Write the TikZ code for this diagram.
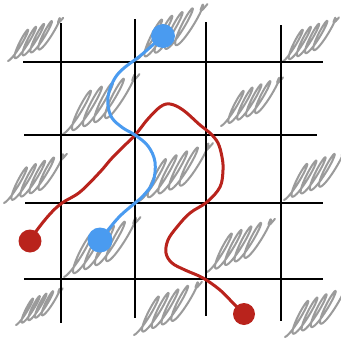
\documentclass[tikz,border=0pt]{standalone}
\usetikzlibrary{calc}
\definecolor{scribgrey}{RGB}{155,155,155}
\definecolor{pathblue}{RGB}{74,155,240}
\definecolor{pathred}{RGB}{185,35,28}
\tikzset{
  gridline/.style={draw=black, line width=2pt},
  scribble/.style={draw=scribgrey, line width=2pt, line cap=round, line join=round},
  bluepath/.style={draw=pathblue, line width=3pt, line cap=round},
  redpath/.style={draw=pathred, line width=3pt, line cap=round},
  bluedot/.style={circle, fill=pathblue, inner sep=0pt, minimum size=24pt},
  reddot/.style={circle, fill=pathred, inner sep=0pt, minimum size=23pt},
}
% #1,#2 origin (image px, y down), #3 scale, #4 end angle
\newcommand{\myscrib}[4]{%
  \draw[scribble]
    plot[domain=0:#4, samples=160, smooth]
      ({#1 + #3*(0.940*(\x/27.7 + 6*sin(\x)) + 12.2*(1-cos(\x)))},
       {#2 - #3*(0.342*(\x/27.7 + 6*sin(\x)) + 22.96*(1-cos(\x)))})
    .. controls +(-5.6*#3,12*#3) and +(-6.6*#3,8.1*#3) .. +(5.6*#3,-0.6*#3);
}
\begin{document}
\begin{tikzpicture}[x=1pt,y=-1pt]
\useasboundingbox (0,0) rectangle (341,338);
\fill[white] (0,0) rectangle (341,338);
% scribbles
\myscrib{8}{61}{0.65}{1620}
\myscrib{136}{60}{0.84}{1620}
\myscrib{282}{62}{0.67}{1620}
\myscrib{63}{134}{0.9}{1620}
\myscrib{221}{126}{0.73}{1620}
\myscrib{4}{203}{0.74}{1620}
\myscrib{139}{201}{0.87}{1620}
\myscrib{284}{200}{0.75}{1620}
\myscrib{64}{277}{0.9}{1620}
\myscrib{207}{272}{0.8}{1620}
\myscrib{16}{325}{0.55}{1620}
\myscrib{134}{335}{0.8}{1620}
\myscrib{285}{337}{0.75}{1620}
% grid
\coordinate (v1t) at (61,23);  \coordinate (v1b) at (61,323);
\coordinate (v2t) at (135,19); \coordinate (v2b) at (135,318);
\coordinate (v3t) at (206,22); \coordinate (v3b) at (206,316);
\coordinate (v4t) at (281,25); \coordinate (v4b) at (281,321);
\coordinate (h1l) at (23,62);  \coordinate (h1r) at (323,62);
\coordinate (h2l) at (24,135); \coordinate (h2r) at (317,135);
\coordinate (h3l) at (25,203); \coordinate (h3r) at (323,203);
\coordinate (h4l) at (24,279); \coordinate (h4r) at (323,279);
\draw[gridline] (v1t) -- (v1b);
\draw[gridline] (v2t) -- (v2b);
\draw[gridline] (v3t) -- (v3b);
\draw[gridline] (v4t) -- (v4b);
\draw[gridline] (h1l) -- (h1r);
\draw[gridline] (h2l) -- (h2r);
\draw[gridline] (h3l) -- (h3r);
\draw[gridline] (h4l) -- (h4r);
% dots
\node[bluedot] (b1) at (163,36) {};
\node[bluedot, minimum size=25pt] (b2) at (100,240) {};
\node[reddot] (r1) at (30,241) {};
\node[reddot, minimum size=22pt] (r2) at (244,314) {};
% paths
\draw[redpath] plot[smooth, tension=0.6] coordinates {(r1.center) (37,230) (50,214) (62,203) (80,192) (100,172) (113,157) (135,135) (147,120) (160,107) (170,104) (183,110) (200,125) (210,133) (218,143) (222,157) (223,170) (220,187) (207,202) (190,213) (177,227) (168,240) (166,253) (172,263) (185,270) (203,278) (220,290) (233,303) (r2.center)};
\draw[bluepath] plot[smooth, tension=0.6] coordinates {(b1.center) (155,43) (140,56) (124,68) (115,78) (109,92) (108,105) (112,118) (123,128) (135,135) (148,146) (155,162) (153,182) (143,196) (135,203) (120,216) (108,230) (b2.center)};
\end{tikzpicture}
\end{document}
